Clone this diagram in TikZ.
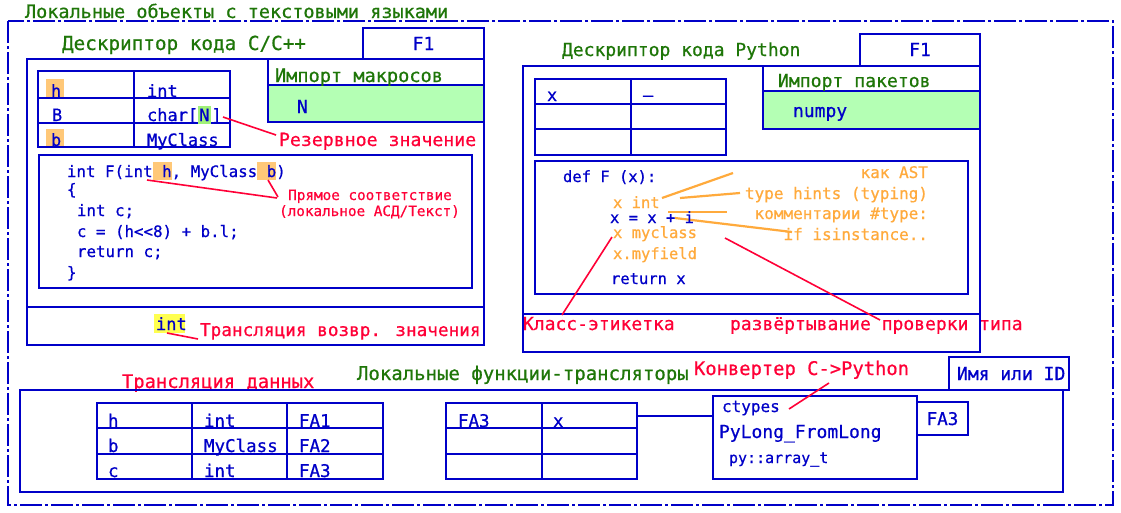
\documentclass[tikz,border=0pt]{standalone}
\usepackage{fontspec}
\setmainfont{DejaVu Sans Mono}[Ligatures=ResetAll,FakeBold=0.6]
\definecolor{cblue}{RGB}{0,0,200}
\definecolor{cgreen}{RGB}{30,118,8}
\definecolor{cred}{RGB}{255,0,55}
\definecolor{corange}{RGB}{255,170,60}
\definecolor{lgreen}{RGB}{180,255,180}
\definecolor{hlo}{RGB}{255,200,120}
\definecolor{hly}{RGB}{255,255,80}
\definecolor{hlg}{RGB}{160,240,120}
\newcommand\fz[1]{\fontsize{#1}{#1}\selectfont}
\newcommand\hlx[2]{{\setlength\fboxsep{0pt}\colorbox{#1}{\rule[-3pt]{0pt}{18pt}#2}}}
% box: [style]{name}{x}{y}{w}{h}
\newcommand\bx[6][]{\node[box,#1,minimum width=#5pt,minimum height=#6pt] (#2) at (#3,#4) {};}
\begin{document}
\begin{tikzpicture}[x=1pt,y=-1pt,
  box/.style={draw=cblue,line width=2.8pt,inner sep=0pt,outer sep=0pt,anchor=north west},
  ln/.style={draw=cblue,line width=2.8pt},
  t/.style={inner sep=0pt,outer sep=0pt,anchor=base west,text=cblue},
  tg/.style={t,text=cgreen},
  tr/.style={t,text=cred},
  to/.style={t,text=corange},
  redl/.style={draw=cred,line width=1.6pt},
  orl/.style={draw=corange,line width=2.2pt},
  frame/.style={draw=cblue,line width=2.8pt,dash pattern=on 22pt off 3pt on 3pt off 3pt}]
\useasboundingbox (0,0) rectangle (1121,512);
\fill[white] (0,0) rectangle (1121,512);

% outer frame
\draw[frame] (8,21) rectangle (1113,505);
\node[tg,font=\fz{18.5}] (ttitle) at (25,18) {Локальные объекты с текстовыми языками};

% ===== C/C++ descriptor =====
\node[tg,font=\fz{19.3}] (tcdesc) at (62,50) {Дескриптор кода C/C++};
\bx{cF1}{363}{28}{121}{31}
\node[t,anchor=base,font=\fz{18}] (tcF1) at (423.5,50) {F1};
\bx{cmain}{27}{59}{457}{286}
\bx{cimp}{268}{59}{216}{63}
\bx[fill=lgreen]{cimpv}{268}{85}{216}{37}
\node[tg,font=\fz{18.6}] (tcimp) at (275,82) {Импорт макросов};
\node[t,font=\fz{18}] (tcN) at (297,113) {N};

% highlights in table
\fill[hlo] (46,79) rectangle (64,98);
\fill[hlo] (46,129) rectangle (64,147);
% table cells
\bx{ct11}{38}{71}{96}{27}
\bx{ct12}{134}{71}{96}{27}
\bx{ct21}{38}{98}{96}{25}
\bx{ct22}{134}{98}{96}{25}
\bx{ct31}{38}{123}{96}{24}
\bx{ct32}{134}{123}{96}{24}
\node[t,font=\fz{17}] (tch) at (51,97) {h};
\node[t,font=\fz{17}] (tcint) at (147,97) {int};
\node[t,font=\fz{17}] (tcB) at (52,121) {B};
\node[t,font=\fz{17}] (tcchar) at (147,121) {char[\hlx{hlg}{\kern1pt N\kern2pt}]};
\node[t,font=\fz{17}] (tcb) at (51,146) {b};
\node[t,font=\fz{17}] (tcmy) at (147,146) {MyClass};

% code box
\bx{ccode}{39}{155}{433}{133}
\node[t,font=\fz{15.8}] (cl1) at (67,177) {int F(int\hlx{hlo}{ h}, MyClass\hlx{hlo}{ b})};
\node[t,font=\fz{15.8}] (cl2) at (67,195) {\{};
\node[t,font=\fz{15.8}] (cl3) at (77,216) {int c;};
\node[t,font=\fz{15.8}] (cl4) at (77,237) {c = (h<{}<8) + b.l;};
\node[t,font=\fz{15.8}] (cl5) at (77,257) {return c;};
\node[t,font=\fz{15.8}] (cl6) at (67,278) {\}};

\draw[ln] (cmain.west |- 0,307) -- (cmain.east |- 0,307);
\fill[hly] (154,314) rectangle (185,333);
\node[t,font=\fz{17}] (tcret) at (156,330) {int};

% red labels C side
\node[tr,font=\fz{18.2}] (lrez) at (279,146) {Резервное значение};
\node[tr,anchor=base,font=\fz{14.3}] (lpr1) at (370,200) {Прямое соответствие};
\node[tr,anchor=base,font=\fz{14.3}] (lpr2) at (369.5,216) {(локальное АСД/Текст)};
\node[tr,font=\fz{17.7}] (ltrv) at (200,336) {Трансляция возвр. значения};

\coordinate (rzA) at (223,117);
\coordinate (rzB) at (276,135);
\draw[redl] (rzA) -- (rzB);
\coordinate (prH) at (147,180);
\coordinate (prHe) at (277,198);
\coordinate (prB) at (268,180);
\coordinate (prBe) at (278,197);
\draw[redl] (prH) -- (prHe);
\draw[redl] (prB) -- (prBe);
\coordinate (trA) at (167,333);
\coordinate (trB) at (198,339);
\draw[redl] (trA) -- (trB);

% ===== Python descriptor =====
\node[tg,font=\fz{18}] (tpdesc) at (562,56) {Дескриптор кода Python};
\bx{pF1}{860}{34}{120}{32}
\node[t,anchor=base,font=\fz{18}] (tpF1) at (920,56) {F1};
\bx{pmain}{523}{66}{457}{286}
\bx{pimp}{763}{66}{217}{63}
\bx[fill=lgreen]{pimpv}{763}{91}{217}{38}
\node[tg,font=\fz{18.1}] (tpimp) at (778,87) {Импорт пакетов};
\node[t,font=\fz{18}] (tpnum) at (793,117) {numpy};

\bx{pt11}{535}{79}{96}{25}
\bx{pt12}{631}{79}{95}{25}
\bx{pt21}{535}{104}{96}{25}
\bx{pt22}{631}{104}{95}{25}
\bx{pt31}{535}{129}{96}{26}
\bx{pt32}{631}{129}{95}{26}
\node[t,font=\fz{17}] (tpx) at (547,101) {x};
\node[t,font=\fz{17}] (tpd) at (643,101) {–};

\bx{pcode}{535}{161}{433}{133}
\coordinate (oA1) at (662,198); \coordinate (oA2) at (733,173);
\coordinate (oB1) at (680,198); \coordinate (oB2) at (740,193);
\coordinate (oC1) at (668,212); \coordinate (oC2) at (727,212);
\coordinate (oD1) at (675,218); \coordinate (oD2) at (792,232);
\draw[orl] (oA1) -- (oA2);
\draw[orl] (oB1) -- (oB2);
\draw[orl] (oC1) -- (oC2);
\draw[orl] (oD1) -- (oD2);
\node[t,font=\fz{15.5}] (pl1) at (563,182) {def F (x):};
\node[to,font=\fz{15.5}] (pl2) at (613,208) {x int};
\node[t,font=\fz{15.5}] (pl3) at (610,223) {x = x + i};
\node[to,font=\fz{15.5}] (pl4) at (613,238) {x myclass};
\node[to,font=\fz{15.5}] (pl5) at (613,259) {x.myfield};
\node[t,font=\fz{15.5}] (pl6) at (611,284) {return x};

\node[to,anchor=base east,font=\fz{16}] (oast) at (928,178) {как AST};
\node[to,anchor=base east,font=\fz{16}] (ohint) at (928,199) {type hints (typing)};
\node[to,anchor=base east,font=\fz{16}] (ocom) at (928,219) {комментарии \#type:};
\node[to,anchor=base east,font=\fz{16}] (oisi) at (928,240) {if isinstance..};

\draw[ln] (pmain.west |- 0,314) -- (pmain.east |- 0,314);
\node[tr,font=\fz{18}] (lcls) at (523,330) {Класс-этикетка};
\node[tr,font=\fz{18}] (lrazv) at (730,330) {развёртывание проверки типа};
\coordinate (clA) at (612,237); \coordinate (clB) at (562,315);
\draw[redl] (clA) -- (clB);
\coordinate (rvA) at (725,238); \coordinate (rvB) at (880,320);
\draw[redl] (rvA) -- (rvB);

% ===== bottom: local translator functions =====
\node[tr,font=\fz{18.8}] (ltd) at (122,388) {Трансляция данных};
\node[tg,font=\fz{19}] (tlocf) at (357,380) {Локальные функции-трансляторы};
\node[tr,font=\fz{18.8}] (lconv) at (694,375) {Конвертер C->Python};
\bx{bname}{949}{357}{120}{33}
\node[t,font=\fz{18}] (tname) at (957,380) {Имя или ID};
\bx{bmain}{20}{390}{1043}{102}

\bx{b111}{97}{403}{95}{25}
\bx{b112}{192}{403}{95}{25}
\bx{b113}{287}{403}{96}{25}
\bx{b121}{97}{428}{95}{26}
\bx{b122}{192}{428}{95}{26}
\bx{b123}{287}{428}{96}{26}
\bx{b131}{97}{454}{95}{25}
\bx{b132}{192}{454}{95}{25}
\bx{b133}{287}{454}{96}{25}
\node[t,font=\fz{17.5}] at (108,427) {h};
\node[t,font=\fz{17.5}] at (204,427) {int};
\node[t,font=\fz{17.5}] at (299,427) {FA1};
\node[t,font=\fz{17.5}] at (108,452) {b};
\node[t,font=\fz{17.5}] at (204,452) {MyClass};
\node[t,font=\fz{17.5}] at (299,452) {FA2};
\node[t,font=\fz{17.5}] at (108,477) {c};
\node[t,font=\fz{17.5}] at (204,477) {int};
\node[t,font=\fz{17.5}] at (299,477) {FA3};

\bx{b211}{446}{403}{96}{25}
\bx{b212}{542}{403}{95}{25}
\bx{b221}{446}{428}{96}{26}
\bx{b222}{542}{428}{95}{26}
\bx{b231}{446}{454}{96}{25}
\bx{b232}{542}{454}{95}{25}
\node[t,font=\fz{17.5}] (tfa3m) at (458,427) {FA3};
\node[t,font=\fz{17.5}] (txm) at (553,427) {x};

\bx{bconv}{713}{396}{204}{83}
\bx{bfa3}{917}{402}{51}{33}
\node[t,anchor=base,font=\fz{17.5}] (tfa3) at (942.5,425) {FA3};
\node[t,font=\fz{16}] (tct) at (722,412) {ctypes};
\node[t,font=\fz{18}] (tpyl) at (719,438) {PyLong\_FromLong};
\node[t,font=\fz{15}] (tpya) at (729,463) {py::array\_t};

\draw[ln] (b212.east |- 0,416) -- (bconv.west |- 0,416);
\coordinate (cvA) at (789,409); \coordinate (cvB) at (829,383);
\draw[redl] (cvA) -- (cvB);
\end{tikzpicture}
\end{document}
